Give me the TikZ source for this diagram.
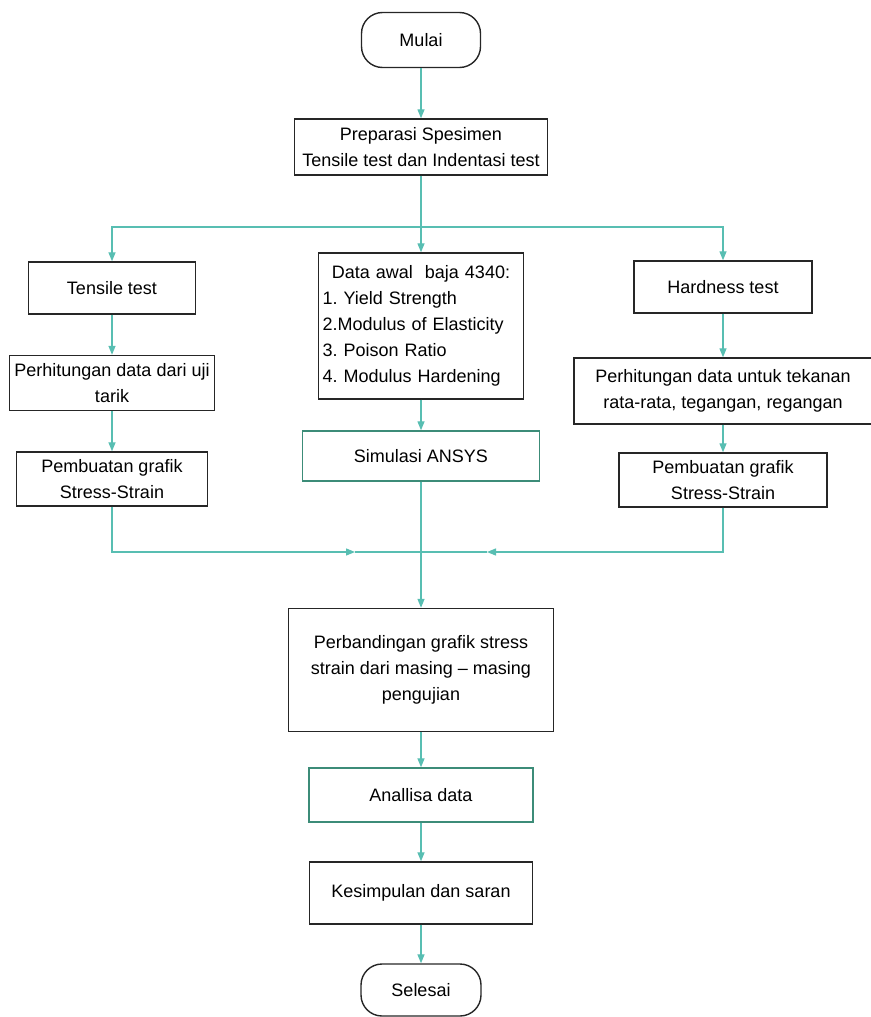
\documentclass[tikz,border=0pt]{standalone}
\usepackage{fontspec}
\setmainfont{Liberation Sans}
\usetikzlibrary{arrows.meta}
\frenchspacing

\definecolor{flowline}{RGB}{88,190,178}
\definecolor{flowedge}{RGB}{60,140,120}

\tikzset{
  box/.style={draw=black!85, line width=1.4pt, align=center, inner sep=2pt,
    font=\fontsize{18}{26}\selectfont},
  term/.style={box, rounded corners=21pt},
  line/.style={draw=flowline, line width=1.3pt},
  arr/.style={line, -{Triangle[length=9pt,width=7pt]}, color=flowline}
}

\begin{document}
\begin{tikzpicture}[x=1pt,y=-1pt]
  \useasboundingbox (0,0) rectangle (870,1017);
  \node[term, minimum width=119pt, minimum height=55pt] (mulai) at (421,40) {Mulai};
  \node[box, minimum width=253pt, minimum height=56pt] (prep) at (421,147) {Preparasi Spesimen\\Tensile test dan Indentasi test};
  \node[box, minimum width=167pt, minimum height=52pt] (tensile) at (112,288) {Tensile test};
  \node[box, inner xsep=4pt, text width=197pt, minimum height=146pt, align=left] (data) at (421,326) {\makebox[197pt]{Data awal\ \ baja 4340:}\\1. Yield Strength\\2.Modulus of Elasticity\\3. Poison Ratio\\4. Modulus Hardening};
  \node[box, minimum width=178pt, minimum height=52pt] (hardness) at (723,287) {Hardness test};
  \node[box, minimum width=205pt, minimum height=55pt] (hitungL) at (112,383) {Perhitungan data dari uji\\tarik};
  \node[box, minimum width=298pt, minimum height=66pt] (hitungR) at (723,391) {Perhitungan data untuk tekanan\\rata-rata, tegangan, regangan};
  \node[box, draw=flowedge, minimum width=237pt, minimum height=50pt] (simulasi) at (421,456) {Simulasi ANSYS};
  \node[box, minimum width=191pt, minimum height=54pt] (grafikL) at (112,479) {Pembuatan grafik\\Stress-Strain};
  \node[box, minimum width=208pt, minimum height=54pt] (grafikR) at (723,480) {Pembuatan grafik\\Stress-Strain};
  \node[box, minimum width=265pt, minimum height=123pt] (banding) at (421,670) {Perbandingan grafik stress\\strain dari masing – masing\\pengujian};
  \node[box, draw=flowedge, minimum width=224pt, minimum height=54pt] (analisa) at (421,795) {Anallisa data};
  \node[box, minimum width=223pt, minimum height=62pt] (simpul) at (421,893) {Kesimpulan dan saran};
  \node[term, minimum width=120pt, minimum height=52pt] (selesai) at (421,990) {Selesai};
  \coordinate (split) at (421,227);
  \coordinate (join) at (421,552);
  \coordinate (inL) at (355,552);
  \coordinate (inR) at (487,552);
  % Draw the flow lines
  \draw[arr] (mulai) -- (prep);
  \draw[line] (prep) -- (split);
  \draw[arr] (split) -| (tensile);
  \draw[arr] (split) -- (data);
  \draw[arr] (split) -| (hardness);
  \draw[arr] (tensile) -- (hitungL);
  \draw[arr] (hitungL) -- (grafikL);
  \draw[arr] (data) -- (simulasi);
  \draw[arr] (hardness) -- (hitungR);
  \draw[arr] (hitungR) -- (grafikR);
  \draw[arr] (grafikL) |- (inL);
  \draw[line] (inL) -- (join);
  \draw[arr] (grafikR) |- (inR);
  \draw[line] (inR) -- (join);
  \draw[arr] (simulasi) -- (banding);
  \draw[arr] (banding) -- (analisa);
  \draw[arr] (analisa) -- (simpul);
  \draw[arr] (simpul) -- (selesai);
\end{tikzpicture}
\end{document}
